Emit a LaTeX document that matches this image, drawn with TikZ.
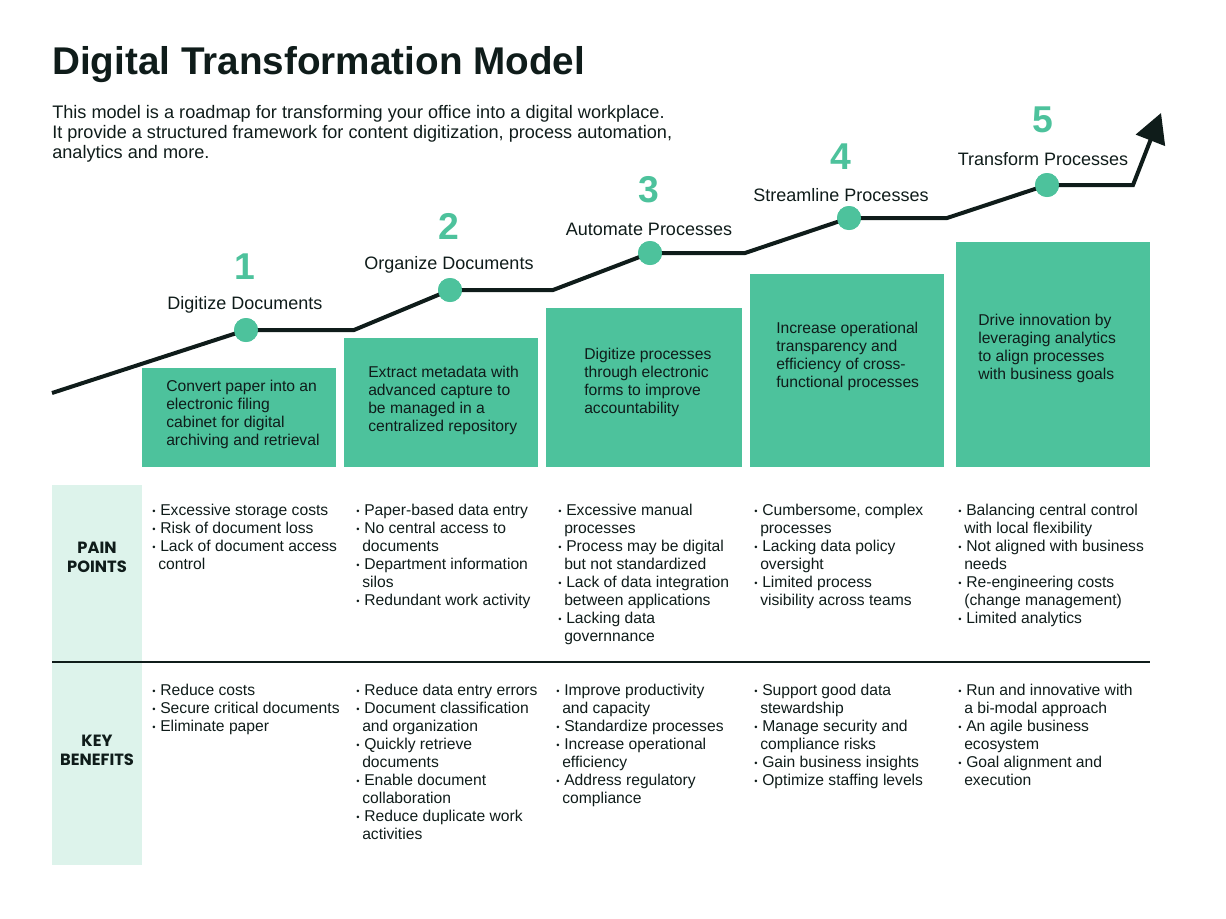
\documentclass[tikz,border=0pt]{standalone}
\usepackage{fontspec}
\setmainfont{Liberation Sans}
\newfontfamily\rowfont{Poppins}
\usetikzlibrary{arrows.meta,positioning}

\definecolor{stagegreen}{HTML}{4DC29C}
\definecolor{palegreen}{HTML}{DDF3EB}
\definecolor{inkdark}{HTML}{0F1C1A}

% bullet and hanging indent for the lists
\newcommand{\itm}{\makebox[6pt][l]{\raisebox{0.1ex}{\scriptsize\textbullet}}}
\newcommand{\cont}{\hspace*{4.5pt}}

\tikzset{
  % multi-line nodes sit on the baseline of their last line
  body/.style={font=\fontsize{11.75}{13.5}\selectfont, text=inkdark, align=left, anchor=base west, inner sep=0pt},
  stagelabel/.style={font=\fontsize{13.5}{16}\selectfont, text=inkdark, inner sep=0pt},
  stagenum/.style={font=\fontsize{28}{30}\selectfont\bfseries, text=stagegreen, inner sep=0pt},
  dot/.style={circle, fill=stagegreen, minimum size=18pt, inner sep=0pt},
  rowlabel/.style={font=\rowfont\bfseries\fontsize{12.2}{14.25}\selectfont, text=inkdark, align=center, inner sep=0pt},
}

\begin{document}
\begin{tikzpicture}[x=0.75pt, y=-0.75pt]

  \useasboundingbox (0,0) rectangle (1226,918);

  % Title and intro
  \node[anchor=base west, inner sep=0pt, font=\fontsize{29}{32}\selectfont\bfseries, text=inkdark] (title) at (52,74) {Digital Transformation Model};
  \node[anchor=base west, inner sep=0pt, align=left, font=\fontsize{13.6}{15}\selectfont, text=inkdark] (intro) at (52,158)
    {This model is a roadmap for transforming your office into a digital workplace.\\
     It provide a structured framework for content digitization, process automation,\\
     analytics and more.};

  % Green boxes under the steps
  \fill[stagegreen] (142,368) rectangle (336,467);
  \fill[stagegreen] (344,338) rectangle (538,467);
  \fill[stagegreen] (546,308) rectangle (742,467);
  \fill[stagegreen] (750,274) rectangle (944,467);
  \fill[stagegreen] (956,242) rectangle (1150,467);

  \node[body] (box1) at (166,445) {Convert paper into an\\electronic filing\\cabinet for digital\\archiving and retrieval};
  \node[body] (box2) at (368,431) {Extract metadata with\\advanced capture to\\be managed in a\\centralized repository};
  \node[body] (box3) at (584,413) {Digitize processes\\through electronic\\forms to improve\\accountability};
  \node[body] (box4) at (776,387) {Increase operational\\transparency and\\efficiency of cross-\\functional processes};
  \node[body] (box5) at (978,379) {Drive innovation by\\leveraging analytics\\to align processes\\with business goals};

  % The rising path
  \coordinate (start) at (52,393);
  \coordinate (k1) at (354,330);
  \coordinate (k2) at (553,290);
  \coordinate (k3) at (745,253);
  \coordinate (k4) at (947,218);
  \coordinate (k5) at (1133,185);
  \coordinate (tip) at (1161,113);

  \node[dot] (d1) at (246,330) {};
  \node[dot] (d2) at (450,290) {};
  \node[dot] (d3) at (650,253) {};
  \node[dot] (d4) at (849,218) {};
  \node[dot] (d5) at (1047,185) {};

  \draw[inkdark, line width=3pt, -{Triangle[length=22pt,width=23pt]}]
    (start) -- (d1.center) -- (k1) -- (d2.center) -- (k2) -- (d3.center) -- (k3)
    -- (d4.center) -- (k4) -- (d5.center) -- (k5) -- (tip);

  % redraw dots on top of the line
  \foreach \d in {d1,d2,d3,d4,d5}
    \fill[stagegreen] (\d) circle (9pt);

  % Step numbers and names
  \node[stagenum] (n1) at (245,267) {1};
  \node[stagenum] (n2) at (449,226) {2};
  \node[stagenum] (n3) at (649,190) {3};
  \node[stagenum] (n4) at (841,157) {4};
  \node[stagenum] (n5) at (1043,120) {5};

  \node[stagelabel] (s1) at (245,305) {Digitize Documents};
  \node[stagelabel] (s2) at (449,265) {Organize Documents};
  \node[stagelabel] (s3) at (649,229) {Automate Processes};
  \node[stagelabel] (s4) at (841,195) {Streamline Processes};
  \node[stagelabel] (s5) at (1043,159) {Transform Processes};

  % Table: side column and divider
  \fill[palegreen] (52,485) rectangle (142,865);
  \draw[inkdark, line width=1.5pt] (52,662) -- (1150,662);

  \node[rowlabel] (pain) at (97,557) {PAIN\\POINTS};
  \node[rowlabel] (gain) at (97,750) {KEY\\BENEFITS};

  % Pain points
  \node[body] (p1) at (152,569) {\itm Excessive storage costs\\\itm Risk of document loss\\\itm Lack of document access\\\cont control};
  \node[body] (p2) at (356,605) {\itm Paper-based data entry\\\itm No central access to\\\cont documents\\\itm Department information\\\cont silos\\\itm Redundant work activity};
  \node[body] (p3) at (558,641) {\itm Excessive manual\\\cont processes\\\itm Process may be digital\\\cont but not standardized\\\itm Lack of data integration\\\cont between applications\\\itm Lacking data\\\cont governnance};
  \node[body] (p4) at (754,605) {\itm Cumbersome, complex\\\cont processes\\\itm Lacking data policy\\\cont oversight\\\itm Limited process\\\cont visibility across teams};
  \node[body] (p5) at (958,623) {\itm Balancing central control\\\cont with local flexibility\\\itm Not aligned with business\\\cont needs\\\itm Re-engineering costs\\\cont (change management)\\\itm Limited analytics};

  % Key benefits
  \node[body] (b1) at (152,731) {\itm Reduce costs\\\itm Secure critical documents\\\itm Eliminate paper};
  \node[body] (b2) at (356,839) {\itm Reduce data entry errors\\\itm Document classification\\\cont and organization\\\itm Quickly retrieve\\\cont documents\\\itm Enable document\\\cont collaboration\\\itm Reduce duplicate work\\\cont activities};
  \node[body] (b3) at (556,803) {\itm Improve productivity\\\cont and capacity\\\itm Standardize processes\\\itm Increase operational\\\cont efficiency\\\itm Address regulatory\\\cont compliance};
  \node[body] (b4) at (754,785) {\itm Support good data\\\cont stewardship\\\itm Manage security and\\\cont compliance risks\\\itm Gain business insights\\\itm Optimize staffing levels};
  \node[body] (b5) at (958,785) {\itm Run and innovative with\\\cont a bi-modal approach\\\itm An agile business\\\cont ecosystem\\\itm Goal alignment and\\\cont execution};

\end{tikzpicture}
\end{document}
